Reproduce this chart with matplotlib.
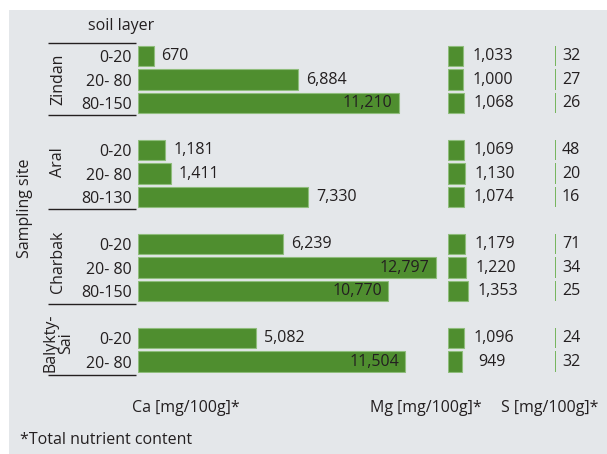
import matplotlib
matplotlib.use("Agg")
import matplotlib.pyplot as plt
from matplotlib.patches import Rectangle

plt.rcParams['font.family'] = ['Open Sans', 'DejaVu Sans']

# ---------------- data ----------------
sites = ["Zindan", "Aral", "Charbak", "Balykty-\nSai"]
layers = [["0-20", "20- 80", "80-150"],
          ["0-20", "20- 80", "80-130"],
          ["0-20", "20- 80", "80-150"],
          ["0-20", "20- 80"]]
ca = [670, 6884, 11210, 1181, 1411, 7330, 6239, 12797, 10770, 5082, 11504]
mg = [1033, 1000, 1068, 1069, 1130, 1074, 1179, 1220, 1353, 1096, 949]
s_vals = [32, 27, 26, 48, 20, 16, 71, 34, 25, 24, 32]

# ---------------- style ----------------
W, H = 607, 454
DPI = 100
BG = "#e4e7ea"
GREEN = "#4f8e2f"
EDGE = "#8fbd7c"
SLINE = "#74b45c"
TXT = "#231f20"
FS = 11.5

fig = plt.figure(figsize=(W / DPI, H / DPI), dpi=DPI)
fig.patch.set_facecolor("white")
fig.patches.append(Rectangle((9 / W, 0), 1 - 9 / W, 1 - 10 / H,
                             transform=fig.transFigure, facecolor=BG,
                             edgecolor="none", zorder=-10))

# row positions (blank row between groups)
ypos = []
k = 0
for g in layers:
    for _ in g:
        ypos.append(k)
        k += 1
    k += 1
layer_labels = [l for g in layers for l in g]

ROW0, ROWSTEP = 56.0, 23.5
ylo, yhi = -0.5, 13.5
top_px = ROW0 + ROWSTEP * ylo
bot_px = ROW0 + ROWSTEP * yhi


def make_ax(left_px, width_px):
    ax = fig.add_axes([left_px / W, 1 - bot_px / H, width_px / W, (bot_px - top_px) / H])
    ax.set_ylim(yhi, ylo)
    ax.set_facecolor("none")
    for sp in ax.spines.values():
        sp.set_visible(False)
    ax.set_xticks([])
    return ax

BH = 0.89
px2pt = 72.0 / DPI

# ---------- Ca ----------
CA_SCALE = 0.02325  # px per unit
ca_left = 138
ax1 = make_ax(ca_left, 13500 * CA_SCALE)
ax1.set_xlim(0, 13500)
ax1.barh(ypos, ca, height=BH, color=GREEN, edgecolor=EDGE, linewidth=0.8)
for y, v in zip(ypos, ca):
    if v >= 10000:
        ax1.annotate(f"{v:,}", (v, y), xytext=(-6 * px2pt, 0), textcoords="offset points",
                     ha="right", va="center", fontsize=FS, color=TXT)
    else:
        ax1.annotate(f"{v:,}", (v, y), xytext=(8 * px2pt, 0), textcoords="offset points",
                     ha="left", va="center", fontsize=FS, color=TXT)
ax1.set_yticks(ypos)
ax1.set_yticklabels(layer_labels, fontsize=FS, color=TXT)
ax1.tick_params(axis="y", length=0, pad=6 * px2pt)

# separators and group labels
def px_to_data_x(px):
    return (px - ca_left) / CA_SCALE

seps = [-0.55, 2.53, 6.53, 10.55, 13.57]
for ys in seps:
    ax1.plot([px_to_data_x(48), px_to_data_x(136)], [ys, ys], color=TXT,
             lw=1.0, clip_on=False, solid_capstyle="butt")
label_y = [(seps[i] + seps[i + 1]) / 2 for i in range(4)]
label_y[2] += 0.2
label_y[3] += 0.15
for name, ly in zip(sites, label_y):
    ax1.text(px_to_data_x(58), ly, name, rotation=90, ha="center", va="center",
             fontsize=FS, color=TXT, clip_on=False, linespacing=1.0)

# ---------- Mg ----------
MG_SCALE = 0.0147
mg_left = 448
ax2 = make_ax(mg_left, 90)
ax2.set_xlim(0, 90 / MG_SCALE)
ax2.barh(ypos, mg, height=BH, color=GREEN, edgecolor=EDGE, linewidth=0.8)
ax2.set_yticks([])
for y, v in zip(ypos, mg):
    ax2.annotate(f"{v:,}", (v, y), xytext=(30 * px2pt, 0), textcoords="offset points",
                 ha="center", va="center", fontsize=FS, color=TXT)

# ---------- S ----------
S_SCALE = 0.002
s_left = 555
ax3 = make_ax(s_left, 50)
ax3.set_xlim(0, 50 / S_SCALE)
ax3.barh(ypos, s_vals, height=BH, color=SLINE, edgecolor=SLINE, linewidth=1.4)
ax3.set_yticks([])
for y, v in zip(ypos, s_vals):
    ax3.annotate(f"{v}", (0, y), xytext=(7 * px2pt, 0), textcoords="offset points",
                 ha="left", va="center", fontsize=FS, color=TXT)

# ---------- titles / labels ----------
def ftext(x, y, s, **kw):
    fig.text(x / W, 1 - y / H, s, fontsize=FS, color=TXT, **kw)

ftext(121, 26, "soil layer", ha="center", va="center")
ftext(25, 208, "Sampling site", ha="center", va="center", rotation=90)
ftext(186, 408, "Ca [mg/100g]*", ha="center", va="center")
ftext(426, 408, "Mg [mg/100g]*", ha="center", va="center")
ftext(550, 408, "S [mg/100g]*", ha="center", va="center")
ftext(20, 440, "*Total nutrient content", ha="left", va="center")

fig.savefig("out.png", dpi=DPI)
